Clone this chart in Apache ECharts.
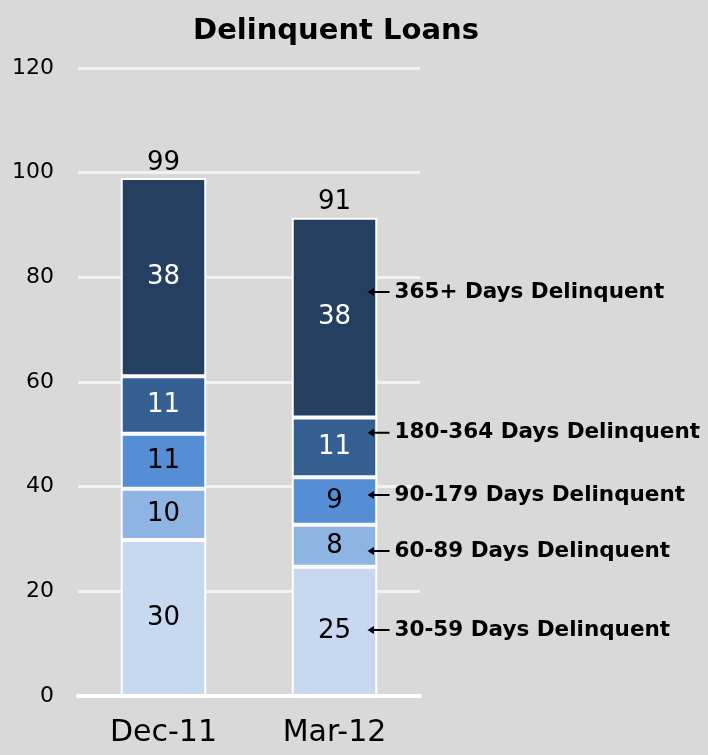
<!DOCTYPE html>
<html lang="en">
<head>
    <meta charset="UTF-8">
    <title>Delinquent Loans</title>
    <script src="https://cdn.jsdelivr.net/npm/echarts@6/dist/echarts.min.js"></script>
    <style>
        html, body { margin: 0; padding: 0; background: #d9d9d9; }
    </style>
</head>
<body>
<div id="main" style="width: 708px;height:755px;"></div>
<script type="text/javascript">
    // data
    var categories = ['Dec-11', 'Mar-12'];
    var buckets = ['30-59 Days Delinquent', '60-89 Days Delinquent', '90-179 Days Delinquent',
                   '180-364 Days Delinquent', '365+ Days Delinquent'];
    var dec11 = [29.8, 9.8, 10.5, 11.0, 37.9];
    var mar12 = [24.7, 8.0, 9.1, 11.4, 38.2];
    // y position (axis units) of the side notes next to Mar-12
    var noteY = [12.6, 27.7, 38.4, 50.3, 77.2];
    var yTicks = [0, 20, 40, 60, 80, 100, 120];

    var colors = ['#c6d9f1', '#8eb4e3', '#558ed5', '#365f91', '#243f60'];
    var textColors = ['#000', '#000', '#000', '#fff', '#fff'];
    var fontName = 'DejaVu Sans';

    var totals = categories.map(function (c, i) {
        var arr = i === 0 ? dec11 : mar12;
        return arr.reduce(function (a, b) { return a + b; }, 0);
    });

    var myChart = echarts.init(document.getElementById('main'));

    var series = buckets.map(function (name, k) {
        return {
            name: name,
            type: 'bar',
            stack: 'loans',
            barWidth: '50%',
            data: [dec11[k], mar12[k]],
            itemStyle: { color: colors[k], borderColor: '#fff', borderWidth: 2 },
            label: {
                show: true,
                position: 'inside',
                color: textColors[k],
                fontFamily: fontName,
                fontSize: 26,
                formatter: function (p) { return Math.round(p.value); }
            }
        };
    });

    // side notes with arrows, pinned to the Mar-12 column
    series[4].markPoint = {
        symbol: 'path://M0,4 L7,0 L7,3 L24,3 L24,5 L7,5 L7,8 Z',
        symbolSize: [22, 8],
        symbolKeepAspect: false,
        symbolOffset: [44, 0],
        itemStyle: { color: '#000' },
        label: {
            show: true,
            position: 'right',
            distance: 5,
            color: '#000',
            fontFamily: fontName,
            fontSize: 21.5,
            fontWeight: 'bold'
        },
        data: buckets.map(function (name, k) {
            return { name: name, coord: ['Mar-12', noteY[k]], label: { formatter: name } };
        })
    };

    // totals on top of each column
    series.push({
        name: 'Total',
        type: 'bar',
        stack: 'loans',
        data: [0, 0],
        itemStyle: { color: 'transparent', borderWidth: 0 },
        label: {
            show: true,
            position: 'top',
            distance: 2,
            color: '#000',
            fontFamily: fontName,
            fontSize: 26,
            formatter: function (p) { return Math.round(totals[p.dataIndex]); }
        }
    });

    var option = {
        backgroundColor: '#d9d9d9',
        animation: false,
        title: {
            text: 'Delinquent Loans',
            left: 331,
            top: 12,
            textAlign: 'center',
            textStyle: { fontFamily: fontName, fontSize: 29, fontWeight: 'bold', color: '#000' }
        },
        grid: { left: 78, right: 288, top: 68, bottom: 59 },
        xAxis: {
            type: 'category',
            data: categories,
            axisTick: { show: false },
            axisLine: { lineStyle: { color: '#fff', width: 4 } },
            axisLabel: { color: '#000', fontFamily: fontName, fontSize: 30, margin: 22 }
        },
        yAxis: {
            type: 'value',
            min: yTicks[0],
            max: yTicks[yTicks.length - 1],
            interval: 20,
            axisLine: { show: false },
            axisTick: { show: false },
            axisLabel: { color: '#000', fontFamily: fontName, fontSize: 22, margin: 24 },
            splitLine: { lineStyle: { color: '#f2f2f2', width: 3 } }
        },
        series: series
    };

    myChart.setOption(option);
</script>
</body>
</html>
